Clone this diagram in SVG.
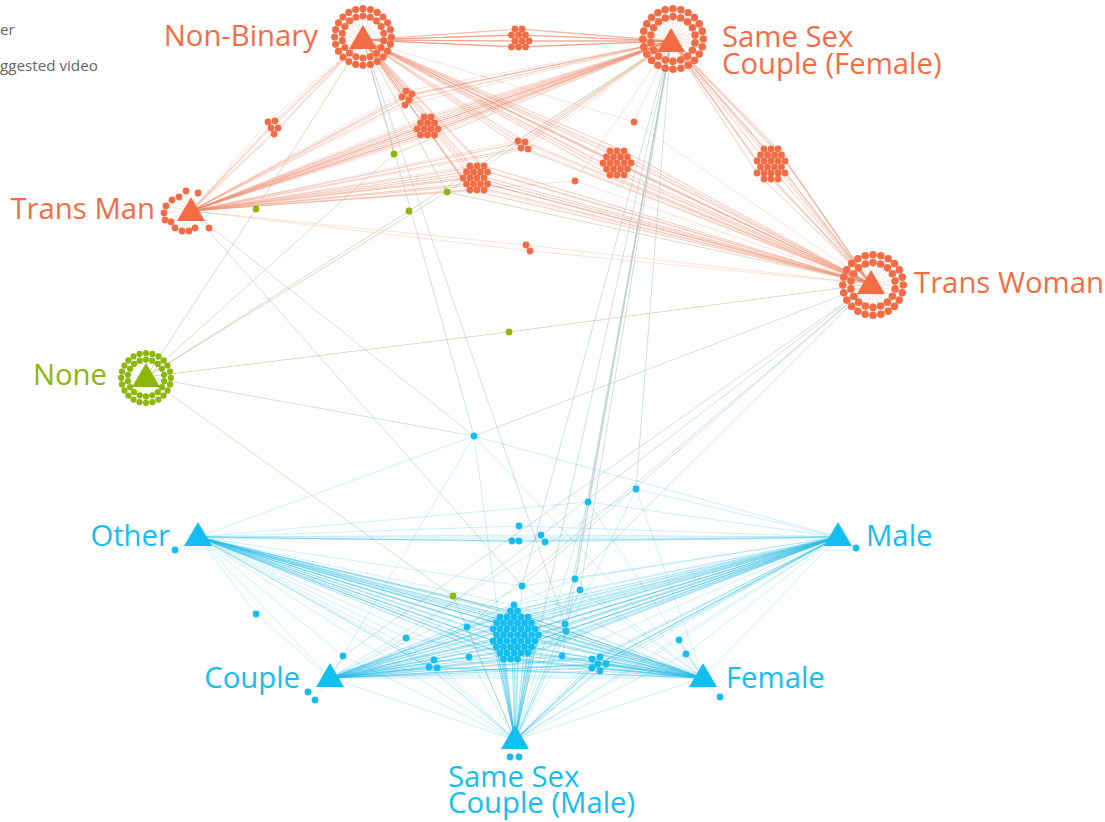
<svg xmlns="http://www.w3.org/2000/svg" xmlns:xlink="http://www.w3.org/1999/xlink" width="1105" height="822" viewBox="0 0 1105 822">
<style>
.o{fill:#F26D45}.b{fill:#14BEF0}.g{fill:#8CB60A}
.t{font-family:"Open Sans","Noto Sans","DejaVu Sans",sans-serif;font-size:29.3px}
.to{fill:#F26D45}.tb{fill:#14BEF0}.tg{fill:#8CB60A}
.lg{font-family:"Open Sans","Noto Sans",sans-serif;font-size:15.2px;fill:#666}
.eo{fill:none;stroke:#F08A68;stroke-opacity:.32;stroke-width:.8;stroke-linejoin:round}
.eb{fill:none;stroke:#2BBBE8;stroke-opacity:.3;stroke-width:.8;stroke-linejoin:round}
.ex{fill:none;stroke:#B4C8CC;stroke-opacity:.75;stroke-width:.8;stroke-linejoin:round}
.ey{fill:none;stroke:#C8C8AA;stroke-opacity:.85;stroke-width:.8;stroke-linejoin:round}
.sp{fill:none;stroke:#F5A88C;stroke-opacity:.7;stroke-width:.5}
.spg{fill:none;stroke:#C8D68E;stroke-opacity:.7;stroke-width:.5}
</style>
<defs>
<path id="tri" d="M0,-15L14,9L-14,9Z"/>
<path id="spk" d="M0,0L27,0M0,0L26.1,7M0,0L23.4,13.5M0,0L19.1,19.1M0,0L13.5,23.4M0,0L7,26.1M0,0L0,27M0,0L-7,26.1M0,0L-13.5,23.4M0,0L-19.1,19.1M0,0L-23.4,13.5M0,0L-26.1,7M0,0L-27,0M0,0L-26.1,-7M0,0L-23.4,-13.5M0,0L-19.1,-19.1M0,0L-13.5,-23.4M0,0L-7,-26.1M0,0L0,-27M0,0L7,-26.1M0,0L13.5,-23.4M0,0L19.1,-19.1M0,0L23.4,-13.5M0,0L26.1,-7"/>
<g id="ring">
<circle cx="27" cy="0" r="3.4"/><circle cx="26.1" cy="7" r="3.4"/><circle cx="23.4" cy="13.5" r="3.4"/><circle cx="19.1" cy="19.1" r="3.4"/><circle cx="13.5" cy="23.4" r="3.4"/><circle cx="7" cy="26.1" r="3.4"/><circle cx="0" cy="27" r="3.4"/><circle cx="-7" cy="26.1" r="3.4"/><circle cx="-13.5" cy="23.4" r="3.4"/><circle cx="-19.1" cy="19.1" r="3.4"/><circle cx="-23.4" cy="13.5" r="3.4"/><circle cx="-26.1" cy="7" r="3.4"/><circle cx="-27" cy="0" r="3.4"/><circle cx="-26.1" cy="-7" r="3.4"/><circle cx="-23.4" cy="-13.5" r="3.4"/><circle cx="-19.1" cy="-19.1" r="3.4"/><circle cx="-13.5" cy="-23.4" r="3.4"/><circle cx="-7" cy="-26.1" r="3.4"/><circle cx="0" cy="-27" r="3.4"/><circle cx="7" cy="-26.1" r="3.4"/><circle cx="13.5" cy="-23.4" r="3.4"/><circle cx="19.1" cy="-19.1" r="3.4"/><circle cx="23.4" cy="-13.5" r="3.4"/><circle cx="26.1" cy="-7" r="3.4"/>
<circle cx="19.7" cy="3.5" r="3.4"/><circle cx="17.3" cy="10" r="3.4"/><circle cx="12.9" cy="15.3" r="3.4"/><circle cx="6.8" cy="18.8" r="3.4"/><circle cx="0" cy="20" r="3.4"/><circle cx="-6.8" cy="18.8" r="3.4"/><circle cx="-12.9" cy="15.3" r="3.4"/><circle cx="-17.3" cy="10" r="3.4"/><circle cx="-19.7" cy="3.5" r="3.4"/><circle cx="-19.7" cy="-3.5" r="3.4"/><circle cx="-17.3" cy="-10" r="3.4"/><circle cx="-12.9" cy="-15.3" r="3.4"/><circle cx="-6.8" cy="-18.8" r="3.4"/><circle cx="0" cy="-20" r="3.4"/><circle cx="6.8" cy="-18.8" r="3.4"/><circle cx="12.9" cy="-15.3" r="3.4"/><circle cx="17.3" cy="-10" r="3.4"/><circle cx="19.7" cy="-3.5" r="3.4"/>
</g>
</defs>
<rect width="1105" height="822" fill="#fff"/>

<g id="connectors">
<use href="#spk" class="sp" transform="translate(363,37) scale(1.05)"/>
<use href="#spk" class="sp" transform="translate(673,39) scale(1.12)"/>
<use href="#spk" class="sp" transform="translate(873,285) scale(1.12)"/>
<use href="#spk" class="spg" transform="translate(146,378) scale(0.92)"/>
<path class="sp" d="M191,211L186,191M191,211L198,193M191,211L179,197M191,211L172,200M191,211L166,206M191,211L164,213M191,211L165,220M191,211L171,222M191,211L175,228M191,211L182,231M191,211L189,231M191,211L195,228M191,211L209,228"/>
<g id="e-orange">
<path class="eo" d="M515,29L363,40 511.5,35 363,40 515,41 363,40 511.5,47 363,40 518.5,35 363,40 518.5,47 363,40 522,29 363,40 522,41 363,40 525.5,35 363,40 525.5,47 363,40 529,41"/>
<path class="eo" d="M511.5,35L671,41 511.5,47 671,41 515,29 671,41 515,41 671,41 518.5,35 671,41 518.5,47 671,41 522,29 671,41 522,41 671,41 525.5,35 671,41 525.5,47 671,41 529,41"/>
<path class="eo" d="M268,122L363,40 275,121 363,40 271,128 363,40 278,128 363,40 274,134"/>
<path class="eo" d="M268,122L191,211 275,121 191,211 271,128 191,211 278,128 191,211 274,134"/>
<path class="eo" d="M406,91L363,40 412,94 363,40 402,97 363,40 409,100 363,40 405,105"/>
<path class="eo" d="M406,91L191,211 412,94 191,211 402,97 191,211 409,100 191,211 405,105"/>
<path class="eo" d="M406,91L671,41 412,94 671,41 402,97 671,41 409,100 671,41 405,105"/>
<path class="eo" d="M424,117L191,211 431,117 191,211 420.5,123 191,211 427.5,123 191,211 434.5,123 191,211 417,129 191,211 424,129 191,211 431,129 191,211 438,129 191,211 420.5,135 191,211 427.5,135 191,211 434.5,135"/>
<path class="eo" d="M424,117L671,41 431,117 671,41 420.5,123 671,41 427.5,123 671,41 434.5,123 671,41 417,129 671,41 424,129 671,41 431,129 671,41 438,129 671,41 420.5,135 671,41 427.5,135 671,41 434.5,135"/>
<path class="eo" d="M470,166L363,40 484,166 363,40 466.5,172 363,40 487.5,172 363,40 463,178 363,40 477,178 363,40 466.5,184 363,40 487.5,184 363,40 470,190 363,40 484,190"/>
<path class="eo" d="M470,166L191,211 484,166 191,211 466.5,172 191,211 487.5,172 191,211 463,178 191,211 477,178 191,211 466.5,184 191,211 487.5,184 191,211 470,190 191,211 484,190"/>
<path class="eo" d="M470,166L871,284 484,166 871,284 466.5,172 871,284 487.5,172 871,284 463,178 871,284 477,178 871,284 466.5,184 871,284 487.5,184 871,284 470,190 871,284 484,190"/>
<path class="eo" d="M518,141L363,40 525,142 363,40 521,148 363,40 528,149"/>
<path class="eo" d="M518,141L671,41 525,142 671,41 521,148 671,41 528,149"/>
<path class="eo" d="M518,141L191,211 525,142 191,211 521,148 191,211 528,149"/>
<path class="eo" d="M518,141L871,284 525,142 871,284 521,148 871,284 528,149"/>
<path class="eo" d="M610,151L363,40 624,151 363,40 606.5,157 363,40 627.5,157 363,40 603,163 363,40 617,163 363,40 631,163 363,40 606.5,169 363,40 627.5,169 363,40 610,175 363,40 624,175"/>
<path class="eo" d="M610,151L871,284 624,151 871,284 606.5,157 871,284 627.5,157 871,284 603,163 871,284 617,163 871,284 631,163 871,284 606.5,169 871,284 627.5,169 871,284 610,175 871,284 624,175"/>
<path class="eo" d="M764,149L671,41 778,149 671,41 760.5,155 671,41 781.5,155 671,41 757,161 671,41 771,161 671,41 785,161 671,41 760.5,167 671,41 781.5,167 671,41 757,173 671,41 785,173 671,41 771,179"/>
<path class="eo" d="M764,149L871,284 778,149 871,284 760.5,155 871,284 781.5,155 871,284 757,161 871,284 771,161 871,284 785,161 871,284 760.5,167 871,284 781.5,167 871,284 757,173 871,284 785,173 871,284 771,179"/>
<path class="eo" d="M526,245L191,211 530,251M526,245L871,284 530,251"/>
<path class="eo" d="M363,40L634,122 671,41M634,122L871,284M191,211L575,181 671,41M575,181L871,284"/>
</g>
<g id="e-green">
<path class="ey" d="M146,377L256,209 363,40M146,377L409,211 671,41M146,377L394,154 363,40M394,154L671,41M146,377L447,192 363,40M447,192L671,41M447,192L871,284M146,377L509,332 871,284M146,377L453,596 703,678M453,596L515,740"/>
</g>
<g id="e-cross">
<path class="ex" d="M363,40L474,436M191,211L474,436M671,41L588,502M671,41L636,489M671,41L522,586M671,41L575,579M671,41L580,590M671,41L565,624M671,41L562,656M671,41L515,740M871,284L522,586M871,284L575,579M871,284L467,627M871,284L406,638M871,284L343,656M871,284L474,436M191,211L522,586M363,40L565,624M146,377L474,436"/>
</g>
<g id="e-blue">
<path class="eb" d="M514,605L198,537 510.5,611 198,537 500,617 198,537 528,617 198,537 496.5,623 198,537 531.5,623 198,537 493,629 198,537 535,629 198,537 538.5,635 198,537 493,641 198,537 535,641 198,537 496.5,647 198,537 531.5,647 198,537 500,653 198,537 528,653 198,537 503.5,659 198,537 517.5,659 198,537 514,635"/>
<path class="eb" d="M514,605L838,537 510.5,611 838,537 500,617 838,537 528,617 838,537 496.5,623 838,537 531.5,623 838,537 493,629 838,537 535,629 838,537 538.5,635 838,537 493,641 838,537 535,641 838,537 496.5,647 838,537 531.5,647 838,537 500,653 838,537 528,653 838,537 503.5,659 838,537 517.5,659 838,537 514,635"/>
<path class="eb" d="M514,605L330,678 510.5,611 330,678 500,617 330,678 528,617 330,678 496.5,623 330,678 531.5,623 330,678 493,629 330,678 535,629 330,678 538.5,635 330,678 493,641 330,678 535,641 330,678 496.5,647 330,678 531.5,647 330,678 500,653 330,678 528,653 330,678 503.5,659 330,678 517.5,659 330,678 514,635"/>
<path class="eb" d="M514,605L703,678 510.5,611 703,678 500,617 703,678 528,617 703,678 496.5,623 703,678 531.5,623 703,678 493,629 703,678 535,629 703,678 538.5,635 703,678 493,641 703,678 535,641 703,678 496.5,647 703,678 531.5,647 703,678 500,653 703,678 528,653 703,678 503.5,659 703,678 517.5,659 703,678 514,635"/>
<path class="eb" d="M514,605L515,740 510.5,611 515,740 500,617 515,740 528,617 515,740 496.5,623 515,740 531.5,623 515,740 493,629 515,740 535,629 515,740 538.5,635 515,740 493,641 515,740 535,641 515,740 496.5,647 515,740 531.5,647 515,740 500,653 515,740 528,653 515,740 503.5,659 515,740 517.5,659 515,740 514,635"/>
<path class="eb" d="M434,660L198,537 429,667 198,537 437,668M434,660L330,678 429,667 330,678 437,668M434,660L703,678 429,667 703,678 437,668M434,660L515,740 429,667 515,740 437,668"/>
<path class="eb" d="M592,659L838,537 600,657 838,537 598,664 838,537 606,664 838,537 592,668 838,537 600,671"/>
<path class="eb" d="M592,659L330,678 600,657 330,678 598,664 330,678 606,664 330,678 592,668 330,678 600,671"/>
<path class="eb" d="M592,659L703,678 600,657 703,678 598,664 703,678 606,664 703,678 592,668 703,678 600,671"/>
<path class="eb" d="M592,659L515,740 600,657 515,740 598,664 515,740 606,664 515,740 592,668 515,740 600,671"/>
<path class="eb" d="M198,537L467,627 838,537M330,678L467,627 515,740M198,537L469,657 703,678M330,678L469,657 515,740M198,537L565,624 838,537M703,678L565,624 515,740M198,537L566,631 838,537M703,678L566,631 515,740M838,537L562,656 330,678M703,678L562,656 515,740"/>
<path class="eb" d="M198,537L519,526 838,537M198,537L512,541 838,537M198,537L519,541 838,537M198,537L541,535 838,537M198,537L545,542 838,537"/>
<path class="eb" d="M198,537L406,638 330,678M406,638L703,678M198,537L256,614 330,678M330,678L343,656 198,537M343,656L515,740M703,678L686,654 838,537M686,654L515,740M703,678L679,640 838,537M679,640L515,740"/>
<path class="eb" d="M198,537L175,550M838,537L856,548M330,678L308,692M330,678L315,700M703,678L720,697M515,740L510,757M515,740L519,757"/>
<path class="eb" d="M198,537L522,586 838,537M330,678L522,586 703,678M522,586L515,740M838,537L575,579 330,678M703,678L575,579 515,740M838,537L580,590 330,678M703,678L580,590 515,740M198,537L588,502 838,537M703,678L588,502 515,740M838,537L636,489 330,678M703,678L636,489 515,740M198,537L474,436 838,537M330,678L474,436 703,678M474,436L515,740"/>
<path class="eb" d="M198,537L703,678M198,537L700,674M198,537L705,682M838,537L330,678M838,537L333,674M838,537L327,682M198,537L838,537M198,539L838,539M330,678L703,678M330,676L703,676M198,537L330,678M838,537L703,678M198,537L515,740M838,537L515,740M330,678L515,740M703,678L515,740"/>
</g>
</g>

<g id="n-nonbinary">
<use href="#ring" class="o" transform="translate(363,37) scale(1.05)"/>
<use href="#tri" class="o" x="363" y="40"/>
<text class="t to" x="318" y="46" text-anchor="end">Non-Binary</text>
</g>
<g id="n-sscf">
<use href="#ring" class="o" transform="translate(673,39) scale(1.12)"/>
<use href="#tri" class="o" x="671" y="43"/>
<text class="t to"><tspan x="722" y="47">Same Sex</tspan><tspan x="722" y="74">Couple (Female)</tspan></text>
</g>
<g id="n-transman" class="o">
<circle cx="186" cy="191" r="3.4"/><circle cx="198" cy="193" r="3.4"/><circle cx="179" cy="197" r="3.4"/><circle cx="172" cy="200" r="3.4"/><circle cx="166" cy="206" r="3.4"/><circle cx="164" cy="213" r="3.4"/><circle cx="165" cy="220" r="3.4"/><circle cx="171" cy="222" r="3.4"/><circle cx="175" cy="228" r="3.4"/><circle cx="182" cy="231" r="3.4"/><circle cx="189" cy="231" r="3.4"/><circle cx="195" cy="228" r="3.4"/><circle cx="209" cy="228" r="3.4"/>
<use href="#tri" x="191" y="212"/>
<text class="t to" x="155" y="219" text-anchor="end">Trans Man</text>
</g>
<g id="n-transwoman">
<use href="#ring" class="o" transform="translate(873,285) scale(1.12)"/>
<use href="#tri" class="o" x="871" y="285"/>
<text class="t to" x="914" y="293">Trans Woman</text>
</g>
<g id="n-none">
<use href="#ring" class="g" transform="translate(146,378) scale(0.92)"/>
<use href="#tri" class="g" x="146" y="378"/>
<text class="t tg" x="107" y="385" text-anchor="end">None</text>
</g>
<g id="n-other">
<use href="#tri" class="b" x="198" y="537"/>
<text class="t tb" x="170" y="546" text-anchor="end">Other</text>
</g>
<g id="n-male">
<use href="#tri" class="b" x="838" y="537"/>
<text class="t tb" x="866" y="546">Male</text>
</g>
<g id="n-couple">
<use href="#tri" class="b" x="330" y="678"/>
<text class="t tb" x="300" y="688" text-anchor="end">Couple</text>
</g>
<g id="n-female">
<use href="#tri" class="b" x="703" y="678"/>
<text class="t tb" x="726" y="688">Female</text>
</g>
<g id="n-sscm">
<use href="#tri" class="b" x="515" y="740"/>
<text class="t tb"><tspan x="448" y="787">Same Sex</tspan><tspan x="448" y="813">Couple (Male)</tspan></text>
</g>

<g id="v-orange" class="o">
<circle cx="515" cy="29" r="3.4"/><circle cx="522" cy="29" r="3.4"/><circle cx="511.5" cy="35" r="3.4"/><circle cx="518.5" cy="35" r="3.4"/><circle cx="525.5" cy="35" r="3.4"/><circle cx="515" cy="41" r="3.4"/><circle cx="522" cy="41" r="3.4"/><circle cx="529" cy="41" r="3.4"/><circle cx="511.5" cy="47" r="3.4"/><circle cx="518.5" cy="47" r="3.4"/><circle cx="525.5" cy="47" r="3.4"/>
<circle cx="268" cy="122" r="3.4"/><circle cx="275" cy="121" r="3.4"/><circle cx="271" cy="128" r="3.4"/><circle cx="278" cy="128" r="3.4"/><circle cx="274" cy="134" r="3.4"/>
<circle cx="406" cy="91" r="3.4"/><circle cx="412" cy="94" r="3.4"/><circle cx="402" cy="97" r="3.4"/><circle cx="409" cy="100" r="3.4"/><circle cx="405" cy="105" r="3.4"/>
<circle cx="424" cy="117" r="3.4"/><circle cx="431" cy="117" r="3.4"/><circle cx="420.5" cy="123" r="3.4"/><circle cx="427.5" cy="123" r="3.4"/><circle cx="434.5" cy="123" r="3.4"/><circle cx="417" cy="129" r="3.4"/><circle cx="424" cy="129" r="3.4"/><circle cx="431" cy="129" r="3.4"/><circle cx="438" cy="129" r="3.4"/><circle cx="420.5" cy="135" r="3.4"/><circle cx="427.5" cy="135" r="3.4"/><circle cx="434.5" cy="135" r="3.4"/>
<circle cx="470" cy="166" r="3.4"/><circle cx="477" cy="166" r="3.4"/><circle cx="484" cy="166" r="3.4"/><circle cx="466.5" cy="172" r="3.4"/><circle cx="473.5" cy="172" r="3.4"/><circle cx="480.5" cy="172" r="3.4"/><circle cx="487.5" cy="172" r="3.4"/><circle cx="463" cy="178" r="3.4"/><circle cx="470" cy="178" r="3.4"/><circle cx="477" cy="178" r="3.4"/><circle cx="484" cy="178" r="3.4"/><circle cx="466.5" cy="184" r="3.4"/><circle cx="473.5" cy="184" r="3.4"/><circle cx="480.5" cy="184" r="3.4"/><circle cx="487.5" cy="184" r="3.4"/><circle cx="470" cy="190" r="3.4"/><circle cx="477" cy="190" r="3.4"/><circle cx="484" cy="190" r="3.4"/>
<circle cx="518" cy="141" r="3.4"/><circle cx="525" cy="142" r="3.4"/><circle cx="521" cy="148" r="3.4"/><circle cx="528" cy="149" r="3.4"/>
<circle cx="610" cy="151" r="3.4"/><circle cx="617" cy="151" r="3.4"/><circle cx="624" cy="151" r="3.4"/><circle cx="606.5" cy="157" r="3.4"/><circle cx="613.5" cy="157" r="3.4"/><circle cx="620.5" cy="157" r="3.4"/><circle cx="627.5" cy="157" r="3.4"/><circle cx="603" cy="163" r="3.4"/><circle cx="610" cy="163" r="3.4"/><circle cx="617" cy="163" r="3.4"/><circle cx="624" cy="163" r="3.4"/><circle cx="631" cy="163" r="3.4"/><circle cx="606.5" cy="169" r="3.4"/><circle cx="613.5" cy="169" r="3.4"/><circle cx="620.5" cy="169" r="3.4"/><circle cx="627.5" cy="169" r="3.4"/><circle cx="610" cy="175" r="3.4"/><circle cx="617" cy="175" r="3.4"/><circle cx="624" cy="175" r="3.4"/>
<circle cx="764" cy="149" r="3.4"/><circle cx="771" cy="149" r="3.4"/><circle cx="778" cy="149" r="3.4"/><circle cx="760.5" cy="155" r="3.4"/><circle cx="767.5" cy="155" r="3.4"/><circle cx="774.5" cy="155" r="3.4"/><circle cx="781.5" cy="155" r="3.4"/><circle cx="757" cy="161" r="3.4"/><circle cx="764" cy="161" r="3.4"/><circle cx="771" cy="161" r="3.4"/><circle cx="778" cy="161" r="3.4"/><circle cx="785" cy="161" r="3.4"/><circle cx="760.5" cy="167" r="3.4"/><circle cx="767.5" cy="167" r="3.4"/><circle cx="774.5" cy="167" r="3.4"/><circle cx="781.5" cy="167" r="3.4"/><circle cx="757" cy="173" r="3.4"/><circle cx="764" cy="173" r="3.4"/><circle cx="771" cy="173" r="3.4"/><circle cx="778" cy="173" r="3.4"/><circle cx="785" cy="173" r="3.4"/><circle cx="764" cy="179" r="3.4"/><circle cx="771" cy="179" r="3.4"/><circle cx="778" cy="179" r="3.4"/>
<circle cx="526" cy="245" r="3.4"/><circle cx="530" cy="251" r="3.4"/>
<circle cx="634" cy="122" r="3.4"/><circle cx="575" cy="181" r="3.4"/>
</g>
<g id="v-green" class="g">
<circle cx="394" cy="154" r="3.4"/><circle cx="256" cy="209" r="3.4"/><circle cx="409" cy="211" r="3.4"/><circle cx="447" cy="192" r="3.4"/><circle cx="509" cy="332" r="3.4"/><circle cx="453" cy="596" r="3.4"/>
</g>
<g id="v-blue" class="b">
<circle cx="514" cy="605" r="3.4"/><circle cx="510.5" cy="611" r="3.4"/><circle cx="517.5" cy="611" r="3.4"/>
<circle cx="500" cy="617" r="3.4"/><circle cx="507" cy="617" r="3.4"/><circle cx="514" cy="617" r="3.4"/><circle cx="521" cy="617" r="3.4"/><circle cx="528" cy="617" r="3.4"/>
<circle cx="496.5" cy="623" r="3.4"/><circle cx="503.5" cy="623" r="3.4"/><circle cx="510.5" cy="623" r="3.4"/><circle cx="517.5" cy="623" r="3.4"/><circle cx="524.5" cy="623" r="3.4"/><circle cx="531.5" cy="623" r="3.4"/>
<circle cx="493" cy="629" r="3.4"/><circle cx="500" cy="629" r="3.4"/><circle cx="507" cy="629" r="3.4"/><circle cx="514" cy="629" r="3.4"/><circle cx="521" cy="629" r="3.4"/><circle cx="528" cy="629" r="3.4"/><circle cx="535" cy="629" r="3.4"/>
<circle cx="496.5" cy="635" r="3.4"/><circle cx="503.5" cy="635" r="3.4"/><circle cx="510.5" cy="635" r="3.4"/><circle cx="517.5" cy="635" r="3.4"/><circle cx="524.5" cy="635" r="3.4"/><circle cx="531.5" cy="635" r="3.4"/><circle cx="538.5" cy="635" r="3.4"/>
<circle cx="493" cy="641" r="3.4"/><circle cx="500" cy="641" r="3.4"/><circle cx="507" cy="641" r="3.4"/><circle cx="514" cy="641" r="3.4"/><circle cx="521" cy="641" r="3.4"/><circle cx="528" cy="641" r="3.4"/><circle cx="535" cy="641" r="3.4"/>
<circle cx="496.5" cy="647" r="3.4"/><circle cx="503.5" cy="647" r="3.4"/><circle cx="510.5" cy="647" r="3.4"/><circle cx="517.5" cy="647" r="3.4"/><circle cx="524.5" cy="647" r="3.4"/><circle cx="531.5" cy="647" r="3.4"/>
<circle cx="500" cy="653" r="3.4"/><circle cx="507" cy="653" r="3.4"/><circle cx="514" cy="653" r="3.4"/><circle cx="521" cy="653" r="3.4"/><circle cx="528" cy="653" r="3.4"/>
<circle cx="503.5" cy="659" r="3.4"/><circle cx="510.5" cy="659" r="3.4"/><circle cx="517.5" cy="659" r="3.4"/>
<circle cx="434" cy="660" r="3.4"/><circle cx="429" cy="667" r="3.4"/><circle cx="437" cy="668" r="3.4"/>
<circle cx="592" cy="659" r="3.4"/><circle cx="600" cy="657" r="3.4"/><circle cx="598" cy="664" r="3.4"/><circle cx="606" cy="664" r="3.4"/><circle cx="592" cy="668" r="3.4"/><circle cx="600" cy="671" r="3.4"/>
<circle cx="467" cy="627" r="3.4"/><circle cx="469" cy="657" r="3.4"/><circle cx="565" cy="624" r="3.4"/><circle cx="566" cy="631" r="3.4"/><circle cx="562" cy="656" r="3.4"/>
<circle cx="519" cy="526" r="3.4"/><circle cx="512" cy="541" r="3.4"/><circle cx="519" cy="541" r="3.4"/><circle cx="541" cy="535" r="3.4"/><circle cx="545" cy="542" r="3.4"/>
<circle cx="406" cy="638" r="3.4"/><circle cx="256" cy="614" r="3.4"/><circle cx="343" cy="656" r="3.4"/><circle cx="686" cy="654" r="3.4"/><circle cx="679" cy="640" r="3.4"/>
<circle cx="175" cy="550" r="3.4"/><circle cx="856" cy="548" r="3.4"/><circle cx="308" cy="692" r="3.4"/><circle cx="315" cy="700" r="3.4"/><circle cx="720" cy="697" r="3.4"/><circle cx="510" cy="757" r="3.4"/><circle cx="519" cy="757" r="3.4"/>
<circle cx="522" cy="586" r="3.4"/><circle cx="575" cy="579" r="3.4"/><circle cx="580" cy="590" r="3.4"/><circle cx="588" cy="502" r="3.4"/><circle cx="636" cy="489" r="3.4"/><circle cx="474" cy="436" r="3.4"/>
</g>

<g id="legend">
<text class="lg" x="0" y="35">er</text>
<text class="lg" x="0" y="71">ggested video</text>
</g>
</svg>
